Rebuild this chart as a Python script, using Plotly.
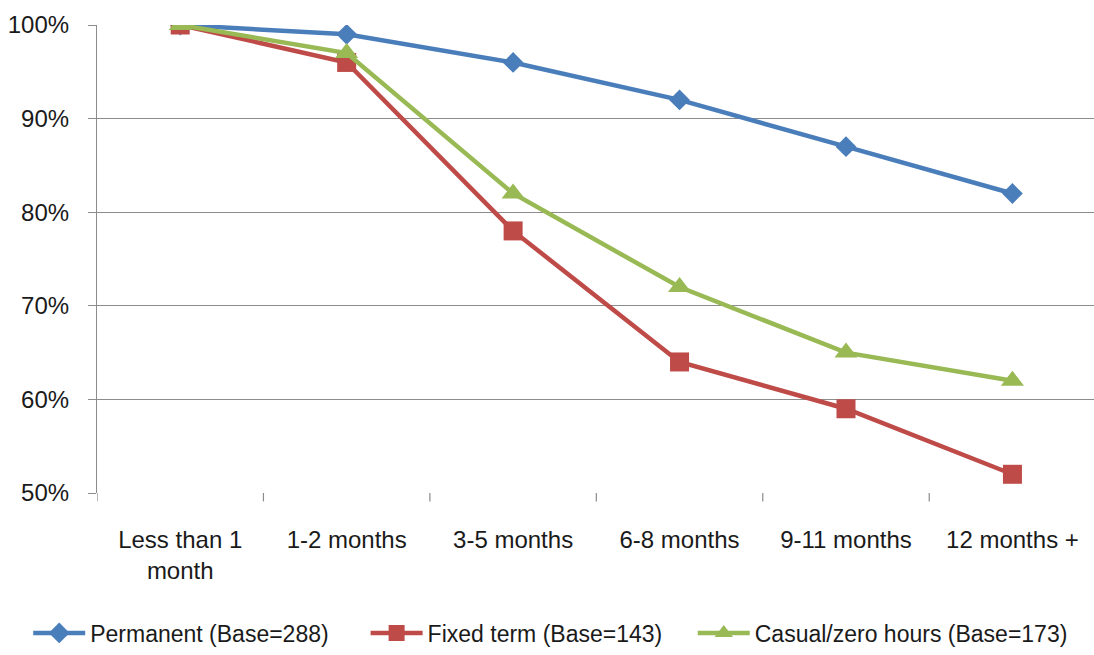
import plotly.graph_objects as go

categories = ["Less than 1<br>month", "1-2 months", "3-5 months", "6-8 months", "9-11 months", "12 months +"]
permanent = [100, 99, 96, 92, 87, 82]
fixed_term = [100, 96, 78, 64, 59, 52]
casual = [100, 97, 82, 72, 65, 62]
y_ticks = [50, 60, 70, 80, 90, 100]
y_tick_labels = ["50%", "60%", "70%", "80%", "90%", "100%"]

FONT = "Liberation Sans, Arial, sans-serif"
GRID = "#8c8c8c"
PAD = "\u00a0"  # spacing between legend entries

fig = go.Figure()
fig.add_trace(go.Scatter(
    x=list(range(len(categories))), y=permanent, name="Permanent (Base=288)" + PAD * 5,
    mode="lines+markers", line=dict(color="#4A7EBB", width=4.5),
    marker=dict(symbol="diamond", size=16, color="#4A7EBB")))
fig.add_trace(go.Scatter(
    x=list(range(len(categories))), y=fixed_term, name="Fixed term (Base=143)" + PAD * 4,
    mode="lines+markers", line=dict(color="#BE4B48", width=4.5),
    marker=dict(symbol="square", size=19, color="#BE4B48")))
fig.add_trace(go.Scatter(
    x=list(range(len(categories))), y=casual, name="Casual/zero hours (Base=173)",
    mode="lines+markers", line=dict(color="#98B954", width=4.5),
    marker=dict(symbol="triangle-up", size=20, color="#98B954")))

fig.update_layout(
    width=1094, height=655,
    margin=dict(l=97, r=0, t=25, b=162),
    plot_bgcolor="white", paper_bgcolor="white",
    font=dict(family=FONT, size=24, color="#1a1a1a"),
    showlegend=True,
    legend=dict(orientation="h", x=-0.069, xanchor="left",
                y=-0.299, yanchor="middle",
                font=dict(size=23), itemwidth=52, tracegroupgap=0),
    xaxis=dict(
        tickmode="array", tickvals=list(range(len(categories))), ticktext=categories,
        range=[-0.5, 5.49], showgrid=False, zeroline=False,
        showline=False, ticks="", ticklabelstandoff=30,
    ),
    yaxis=dict(
        tickmode="array", tickvals=y_ticks, ticktext=y_tick_labels,
        range=[50, 100], showgrid=True, gridcolor=GRID, gridwidth=1.2,
        zeroline=False, showline=True, linecolor=GRID, linewidth=1.2,
        ticks="outside", ticklen=8, tickcolor=GRID, ticklabelstandoff=14,
    ),
)

# category boundary tick marks along the bottom axis
for b in [i - 0.5 for i in range(len(categories) + 1)]:
    fig.add_shape(type="line", xref="x", yref="paper", x0=b, x1=b, y0=0, y1=-0.018,
                  line=dict(color=GRID, width=1.2))

fig.write_html("out.html")
